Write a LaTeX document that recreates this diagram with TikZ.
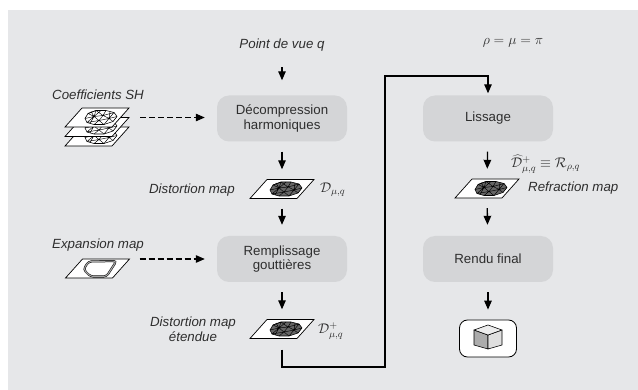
\documentclass[tikz,border=0pt]{standalone}
\usepackage{fix-cm}
\usepackage{fontspec}
\setmainfont{Liberation Sans}
\usetikzlibrary{arrows.meta}
\definecolor{bggray}{HTML}{E6E7E9}
\definecolor{boxgray}{HTML}{D4D5D7}
\definecolor{ink}{HTML}{2E2E2E}

% A textured map drawn on a slanted sheet; #1 is the fill of the meshed blob
\tikzset{
  pics/meshmap/.style={code={
    \draw[line width=0.7pt, fill=white] (-32,9.5) -- (15,9.5) -- (32,-9.5) -- (-15,-9.5) -- cycle;
    \begin{scope}[shift={(3,0)}, line join=round]
      \filldraw[fill=#1, line width=0.6pt]
        (-15,1) -- (-12,-4) -- (-4,-7) -- (6,-7) -- (14,-5) -- (17,-1)
        -- (13,4) -- (4,7) -- (-6,7) -- (-13,5) -- cycle;
      \draw[line width=0.45pt]
        (-15,1) -- (-6,-1) -- (-12,-4)
        (-4,-7) -- (-6,-1) -- (3,-2) -- (-4,-7)
        (6,-7) -- (3,-2) -- (14,-5) -- (9,1) -- (3,-2)
        (17,-1) -- (9,1) -- (13,4)
        (4,7) -- (9,1) -- (-1,3) -- (4,7)
        (-6,7) -- (-1,3) -- (-13,5) -- (-6,-1) -- (-1,3) -- (3,-2)
        (-12,-4) -- (-4,-7) (-9,-6) -- (-6,-1) -- (1,-7)
        (10,-6) -- (9,1) (-10,6) -- (-6,-1);
    \end{scope}
  }},
  pics/expmap/.style={code={
    \draw[line width=0.7pt, fill=white] (-32,9.5) -- (15,9.5) -- (32,-9.5) -- (-15,-9.5) -- cycle;
    \draw[black, line width=0.5pt, double=gray!70, double distance=1.1pt, rounded corners=3pt]
      (-9,-7) -- (19,-7.5) -- (9,8) -- (-7,8) -- (-14,1) -- cycle;
  }},
  pics/cube/.style={code={
    \begin{scope}[line width=0.6pt, line join=round]
      \filldraw[fill=gray!65] (-14,-8.5) -- (0,-3.5) -- (0,10.5) -- (-14,6.5) -- cycle;
      \filldraw[fill=gray!25] (0,-3.5) -- (14,-8.5) -- (14,6.5) -- (0,10.5) -- cycle;
      \filldraw[fill=gray!15] (0,-13.5) -- (14,-8.5) -- (0,-3.5) -- (-14,-8.5) -- cycle;
    \end{scope}
  }}
}

\begin{document}
\begin{tikzpicture}[x=1pt, y=-1pt,
  every node/.style={text=ink, font=\fontsize{13.3}{14.5}\selectfont},
  stage/.style={rectangle, rounded corners=12pt, fill=boxgray, minimum width=130pt,
    minimum height=46pt, align=center, inner sep=2pt},
  lbl/.style={font=\fontsize{13.3}{14.5}\selectfont\itshape, inner sep=0pt},
  mathlbl/.style={font=\fontsize{14}{16}\selectfont, inner sep=0pt},
  iconbox/.style={rectangle, minimum width=64pt, minimum height=19pt, inner sep=0pt},
  arr/.style={line width=1.3pt, -{Triangle[length=9pt,width=7.5pt]},
    shorten <=10pt, shorten >=10pt},
  dasharr/.style={line width=1.1pt, dash pattern=on 6pt off 3pt,
    -{Triangle[length=9pt,width=7.5pt]}},
]
\useasboundingbox (0,0) rectangle (638,390);
\fill[white] (0,0) rectangle (638,390);
\fill[bggray] (8,10) rectangle (638,390);

% left column: inputs
\node[lbl] (shlbl) at (98,95) {Coefficients SH};
\node[iconbox] (shbot) at (97,136.5) {};
\pic at (shbot) {meshmap=white};
\node[iconbox] (shmid) at (97,127) {};
\pic at (shmid) {meshmap=white};
\node[iconbox] (shtop) at (97,117.5) {};
\pic at (shtop) {meshmap=white};

\node[lbl] (explbl) at (98,245) {Expansion map};
\node[iconbox] (expm) at (97.5,268.5) {};
\pic at (expm) {expmap};

% middle column
\node[lbl] (pdv) at (282,45) {Point de vue q};
\node[stage] (decomp) at (282,118.5) {Décompression\\harmoniques};
\node[iconbox] (dmap) at (282,189) {};
\pic at (dmap) {meshmap=black!60};
\node[lbl, anchor=east] (dmaplbl) at (235,190) {Distortion map};
\node[mathlbl, anchor=west] (dsym) at (320,190) {$\mathcal{D}_{\mu,q}$};
\node[stage] (rempl) at (282,259) {Remplissage\\gouttières};
\node[iconbox] (dmapx) at (282,329) {};
\pic at (dmapx) {meshmap=black!60};
\node[lbl, align=center] (dmapxlbl) at (193,329) {Distortion map\\étendue};
\node[mathlbl, anchor=west] (dxsym) at (318,331) {$\mathcal{D}^{+}_{\mu,q}$};

% right column
\node[mathlbl] (rule) at (513,43) {$\rho=\mu=\pi$};
\node[stage] (lissage) at (488,118.5) {Lissage};
\node[iconbox] (rmap) at (487,188.5) {};
\pic at (rmap) {meshmap=black!60};
\node[mathlbl, anchor=west] (dhat) at (511,164)
  {$\widehat{\mathcal{D}}^{+}_{\mu,q}\equiv\mathcal{R}_{\rho,q}$};
\node[lbl, anchor=west] (rmaplbl) at (528,188.5) {Refraction map};
\node[stage] (rendu) at (488,259) {Rendu final};
\node[draw=black, line width=0.8pt, fill=white, rounded corners=8pt,
  minimum width=57pt, minimum height=37pt] (result) at (488,338.5) {};
\pic at (result) {cube};

% connectors
\draw[dasharr, shorten <=11pt, shorten >=12pt] (shtop.east) -- (shtop.east -| decomp.west);
\draw[dasharr, shorten <=10pt, shorten >=12pt] (expm.north east |- rempl.west) -- (rempl.west);
\draw[arr, shorten <=16pt, shorten >=15pt] (pdv) -- (decomp);
\draw[arr] (decomp) -- (dmap);
\draw[arr, shorten >=11pt] (dmap) -- (rempl);
\draw[arr] (rempl) -- (dmapx);
\draw[arr] (lissage) -- (rmap);
\draw[arr, shorten >=11pt] (rmap) -- (rendu);
\draw[arr] (rendu) -- (result);

\coordinate (lowturn) at (385,367);
\coordinate (highturn) at (385,76);
\draw[arr, shorten <=11pt, shorten >=2pt]
  (dmapx.south) -- (dmapx.south |- lowturn) -- (lowturn) -- (highturn)
  -- (highturn -| lissage.north) -- (lissage.north);
\end{tikzpicture}
\end{document}
